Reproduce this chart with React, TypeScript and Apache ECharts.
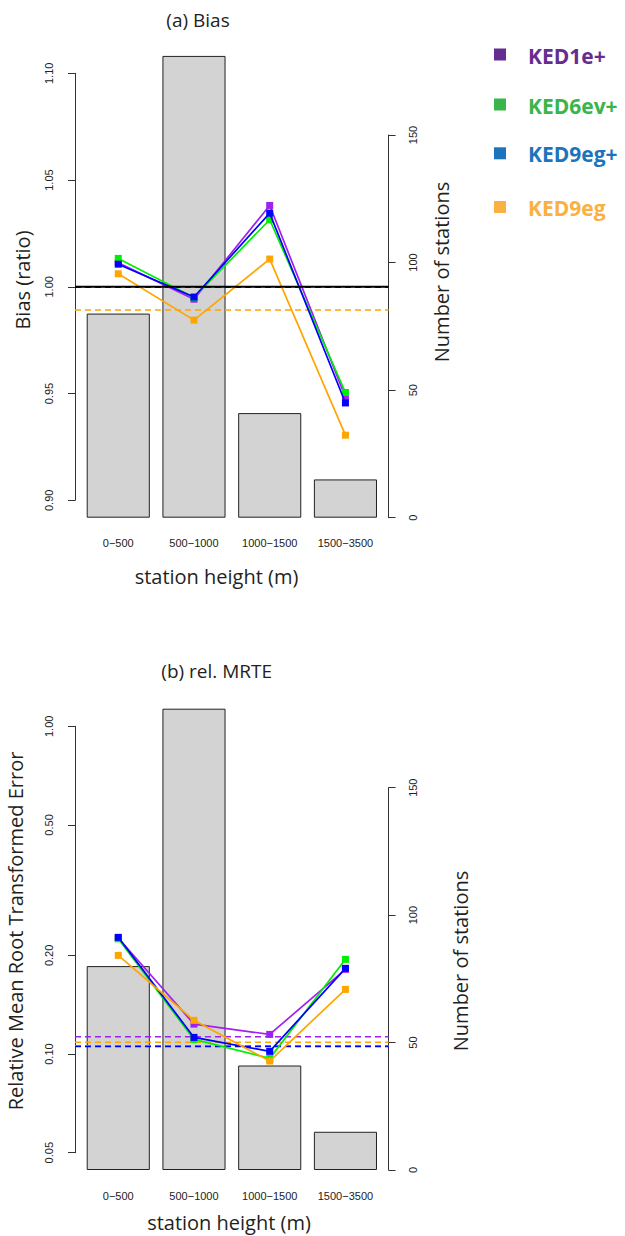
import React, { useEffect, useRef } from 'react';
import * as echarts from 'echarts';

// ---------------- data ----------------
const categories = ['0−500', '500−1000', '1000−1500', '1500−3500'];
const stationCounts = [80, 181, 41, 15];
const seriesNames = ['KED1e+', 'KED6ev+', 'KED9eg+', 'KED9eg'];

// (a) Bias (ratio)
const biasKED1ePlus = [1.0112, 0.9942, 1.0381, 0.9483];
const biasKED6evPlus = [1.0133, 0.995, 1.0314, 0.9505];
const biasKED9egPlus = [1.0106, 0.9952, 1.0345, 0.9456];
const biasKED9eg = [1.0061, 0.9844, 1.013, 0.9305];
const biasMeans = [0.9998, 0.9998, 0.9998, 0.9891];
const biasReference = 1.0;

// (b) relative MRTE
const mrteKED1ePlus = [0.226, 0.1234, 0.1148, 0.1813];
const mrteKED6evPlus = [0.2247, 0.1108, 0.097, 0.1945];
const mrteKED9egPlus = [0.227, 0.1124, 0.1019, 0.1826];
const mrteKED9eg = [0.2, 0.1267, 0.0952, 0.1575];
const mrteMeans = [0.1129, 0.106, 0.1054, 0.1086];

// tick values
const biasTicks = [0.9, 0.95, 1.0, 1.05, 1.1];
const mrteTicks = [0.05, 0.1, 0.2, 0.5, 1.0];
const countTicks = [0, 50, 100, 150];

const biasData = [biasKED1ePlus, biasKED6evPlus, biasKED9egPlus, biasKED9eg];
const mrteData = [mrteKED1ePlus, mrteKED6evPlus, mrteKED9egPlus, mrteKED9eg];

// ---------------- styles ----------------
const lineColors = ['#A020F0', '#00EE00', '#0000FF', '#FFA500'];
const legendColors = ['#662D91', '#39B54A', '#1C75BC', '#FBB040'];
const TXT = '#231F20';
const AX = '#333333';
const TICKFONT = 'Liberation Sans, Arial, sans-serif';
const TITLEFONT = 'Open Sans, Noto Sans, sans-serif';

// layout (pixels)
const PL = 75; // plot left edge (left axis)
const PW = 313.6; // plot width
const CL = 80.4; // category band start
const CW = 302.9; // category band width

function App() {
  const ref = useRef<HTMLDivElement>(null);
  useEffect(() => {
    if (!ref.current) return;
    const chart = echarts.init(ref.current, null, { renderer: 'svg' });

    const panels = [
      { axTop: 73.3, axH: 427, barTop: 135, barH: 382.7 },
      { axTop: 726.3, axH: 426.4, barTop: 787.7, barH: 382.3 },
    ];

    const grid: any[] = [];
    panels.forEach((p) => {
      grid.push({ left: CL, top: p.barTop, width: CW, height: p.barH, outerBoundsMode: 'none' });
      grid.push({ left: CL, top: p.axTop, width: CW, height: p.axH, outerBoundsMode: 'none' });
      grid.push({ left: PL, top: p.axTop, width: PW, height: p.axH, outerBoundsMode: 'none' });
    });

    const catAxis = (gi: number, show: boolean) => ({
      type: 'category',
      gridIndex: gi,
      data: categories,
      show,
      boundaryGap: true,
      axisLine: { show: false },
      axisTick: { show: false },
      axisLabel: {
        interval: 0,
        margin: 20,
        fontSize: 11,
        fontFamily: TICKFONT,
        color: '#222',
      },
    });
    const xAxis: any[] = [
      catAxis(0, true),
      catAxis(1, false),
      { type: 'value', gridIndex: 2, min: 0, max: 1, show: false },
      catAxis(3, true),
      catAxis(4, false),
      { type: 'value', gridIndex: 5, min: 0, max: 1, show: false },
    ];

    const tickLabel = {
      rotate: 90,
      fontSize: 11,
      fontFamily: TICKFONT,
      color: '#222',
    };
    const countAxis = (gi: number) => ({
      type: 'value',
      gridIndex: gi,
      position: 'right',
      offset: PL + PW - (CL + CW),
      min: countTicks[0],
      max: countTicks[countTicks.length - 1],
      interval: countTicks[1] - countTicks[0],
      axisLine: { show: true, lineStyle: { color: AX, width: 1 } },
      axisTick: { show: true, inside: false, length: 7, lineStyle: { color: AX } },
      axisLabel: { ...tickLabel, margin: 19, formatter: (v: number) => String(v) },
      splitLine: { show: false },
    });
    const yAxis: any[] = [
      countAxis(0),
      { type: 'value', gridIndex: 1, min: biasTicks[0], max: biasTicks[biasTicks.length - 1], show: false },
      {
        type: 'value',
        gridIndex: 2,
        position: 'left',
        min: biasTicks[0],
        max: biasTicks[biasTicks.length - 1],
        interval: 0.05,
        axisLine: { show: true, lineStyle: { color: AX, width: 1 } },
        axisTick: { show: true, inside: false, length: 7, lineStyle: { color: AX } },
        axisLabel: { ...tickLabel, margin: 21, formatter: (v: number) => v.toFixed(2) },
        splitLine: { show: false },
      },
      countAxis(3),
      { type: 'log', gridIndex: 4, logBase: 10, min: mrteTicks[0], max: mrteTicks[mrteTicks.length - 1], show: false },
      {
        type: 'log',
        gridIndex: 5,
        logBase: 10,
        position: 'left',
        min: mrteTicks[0],
        max: mrteTicks[mrteTicks.length - 1],
        axisLine: { show: true, lineStyle: { color: AX, width: 1 } },
        axisTick: { show: true, inside: false, length: 7, lineStyle: { color: AX }, customValues: mrteTicks },
        axisLabel: { ...tickLabel, margin: 21, customValues: mrteTicks, formatter: (v: number) => v.toFixed(2) },
        splitLine: { show: false },
        minorTick: { show: false },
      },
    ];

    const series: any[] = [];
    const addPanel = (base: number, values: number[][], means: number[], refLine: number | null) => {
      series.push({
        type: 'bar',
        xAxisIndex: base,
        yAxisIndex: base,
        data: stationCounts,
        barWidth: '83.33%',
        clip: false,
        itemStyle: { color: '#D3D3D3', borderColor: '#222', borderWidth: 1 },
        z: 1,
        silent: true,
      });
      means.forEach((m, i) => {
        series.push({
          type: 'line',
          xAxisIndex: base + 2,
          yAxisIndex: base + 2,
          data: [
            [0, m],
            [1, m],
          ],
          symbol: 'none',
          lineStyle: { color: lineColors[i], width: 1.6, type: [6, 4] },
          z: 2,
          silent: true,
        });
      });
      if (refLine !== null) {
        series.push({
          type: 'line',
          xAxisIndex: base + 2,
          yAxisIndex: base + 2,
          data: [
            [0, refLine],
            [1, refLine],
          ],
          symbol: 'none',
          lineStyle: { color: '#000', width: 2 },
          z: 6,
          silent: true,
        });
      }
      values.forEach((vals, i) => {
        series.push({
          type: 'line',
          name: seriesNames[i],
          xAxisIndex: base + 1,
          yAxisIndex: base + 1,
          data: vals,
          symbol: 'rect',
          symbolSize: 7,
          showSymbol: true,
          lineStyle: { color: lineColors[i], width: 1.7 },
          itemStyle: { color: lineColors[i] },
          z: 3 + i * 0.1,
          silent: true,
        });
      });
    };
    addPanel(0, biasData, biasMeans, biasReference);
    addPanel(3, mrteData, mrteMeans, null);

    const txt = (text: string, x: number, y: number, size: number, rot = 0, extra: any = {}) => ({
      type: 'text',
      x,
      y,
      rotation: rot,
      style: {
        text,
        fontSize: size,
        fontFamily: TITLEFONT,
        fill: TXT,
        align: 'center',
        verticalAlign: 'middle',
        textAlign: 'center',
        textVerticalAlign: 'middle',
        ...extra,
      },
    });

    const legendY = [54.5, 104.5, 153.3, 207];
    const graphic: any[] = [
      txt('(a) Bias', 198, 20, 19),
      txt('(b) rel. MRTE', 216.7, 671, 19),
      txt('station height (m)', 216.5, 576, 20),
      txt('station height (m)', 229, 1222, 20),
      txt('Bias (ratio)', 22, 280, 20, Math.PI / 2),
      txt('Number of stations', 441, 272, 20, Math.PI / 2),
      txt('Relative Mean Root Transformed Error', 15, 931, 20, Math.PI / 2),
      txt('Number of stations', 460, 961, 20, Math.PI / 2),
    ];
    seriesNames.forEach((name, i) => {
      graphic.push({
        type: 'rect',
        shape: { x: 494, y: legendY[i] - 6, width: 12, height: 12 },
        style: { fill: legendColors[i] },
      });
      graphic.push({
        type: 'text',
        x: 528,
        y: legendY[i] + 1,
        style: {
          text: name,
          fontSize: 21,
          fontWeight: 'bold',
          fontFamily: TITLEFONT,
          fill: legendColors[i],
          align: 'left',
          verticalAlign: 'middle',
          textAlign: 'left',
          textVerticalAlign: 'middle',
        },
      });
    });

    chart.setOption({
      animation: false,
      backgroundColor: '#ffffff',
      grid,
      xAxis,
      yAxis,
      series,
      graphic,
    });
    return () => chart.dispose();
  }, []);

  return (
    <div
      ref={ref}
      style={{ position: 'absolute', left: 0, top: 0, width: 625, height: 1236, background: '#fff' }}
    />
  );
}

export default App;
